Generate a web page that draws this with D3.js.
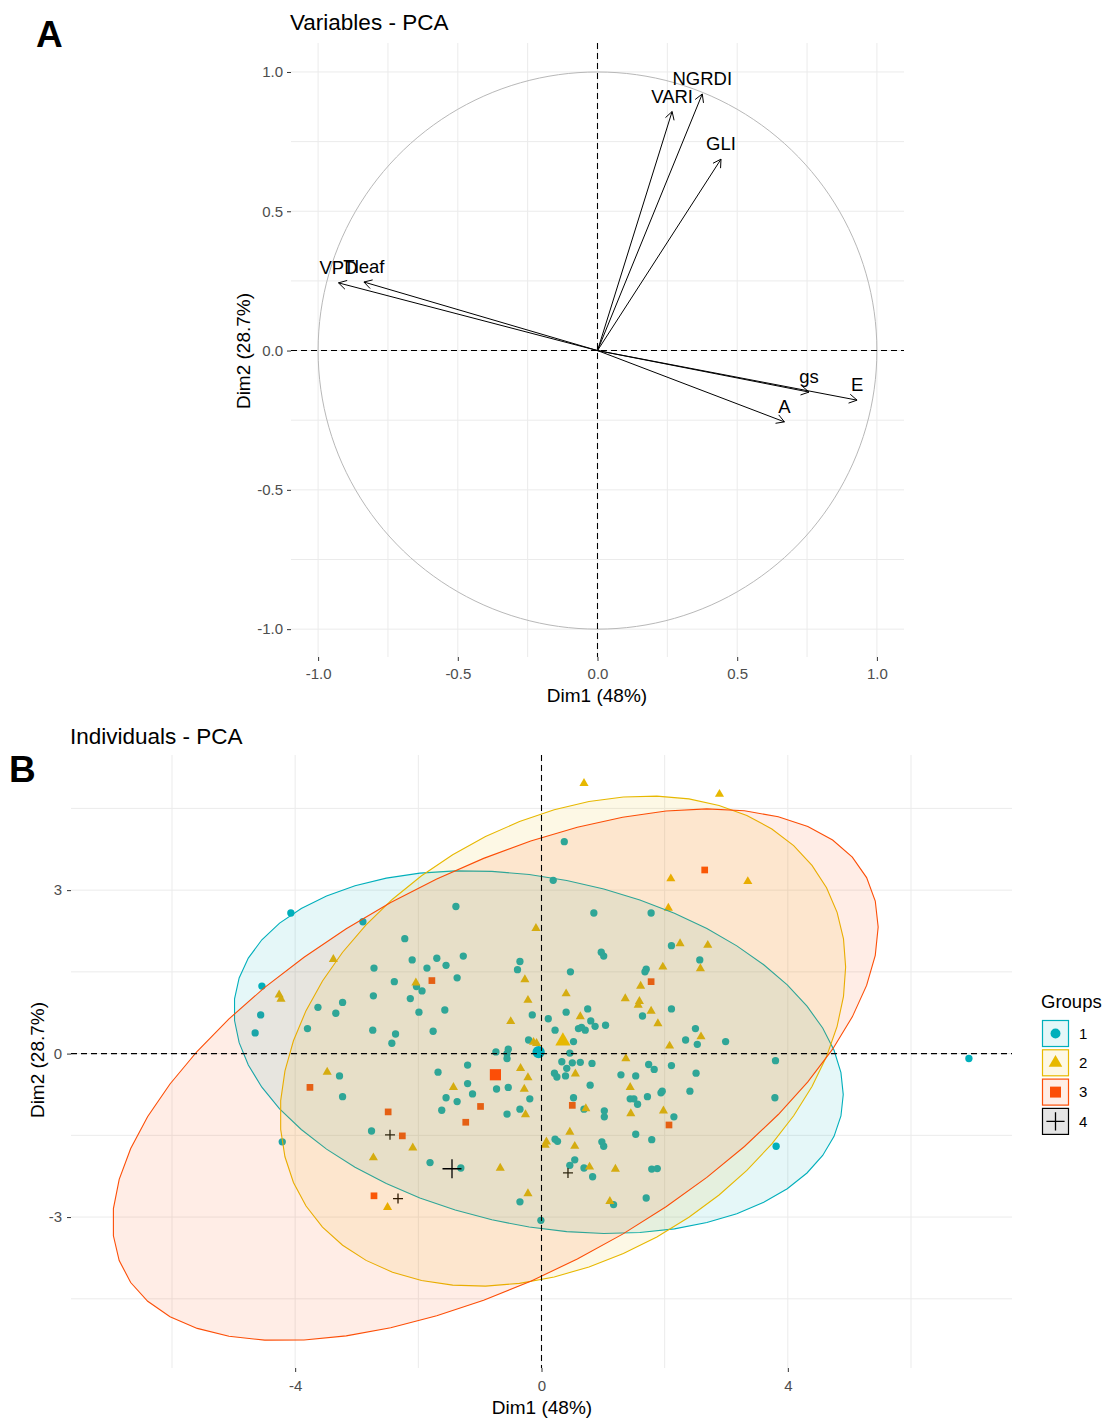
<!DOCTYPE html>
<html>
<head>
<meta charset="utf-8">
<script src="https://cdn.jsdelivr.net/npm/d3@7"></script>
<style>
  body { margin: 0; background: #ffffff; }
  svg text { font-family: "Liberation Sans", Arial, Helvetica, sans-serif; }
</style>
</head>
<body>
<svg id="chart" width="1107" height="1418"></svg>
<script>
// ---------- Panel A: variable loadings (Dim1, Dim2) ----------
const varNames = ["VARI", "NGRDI", "GLI", "VPD", "Tleaf", "gs", "E", "A"];
const varDim1  = [0.267, 0.375, 0.442, -0.927, -0.836, 0.757, 0.929, 0.669];
const varDim2  = [0.858, 0.921, 0.687, 0.243, 0.246, -0.149, -0.178, -0.256];
const ticksA   = [-1.0, -0.5, 0.0, 0.5, 1.0];
const minorA   = [-0.75, -0.25, 0.25, 0.75];

// ---------- Panel B: individual scores by group ----------
const groupNames  = ["1", "2", "3", "4"];
const groupColors = ["#00AFBB", "#E7B800", "#FC4E07", "#000000"];

const g1Dim1 = [-4.07,-2.90,-1.39,-2.22,0.37,0.19,0.85,1.78,-1.27,-1.70,
  -2.10,-1.55,-1.86,-2.72,-0.35,-0.39,-2.39,-2.03,-1.94,-1.37,
  -4.54,-2.73,-2.13,-3.23,-3.63,-3.34,-1.99,-1.57,-0.15,-4.56,
  0.11,-3.80,-2.74,-2.37,-1.76,-4.65,0.22,-2.43,-0.21,-0.74,
  -0.54,-0.56,-0.56,-1.20,-1.68,-3.28,0.21,2.11,0.97,1.01,
  2.57,1.70,1.68,0.47,0.75,0.40,2.11,1.64,0.80,0.87,
  1.04,0.60,0.65,0.71,2.50,2.34,2.53,2.99,0.52,0.46,
  3.80,0.33,0.50,0.63,0.82,0.41,1.74,1.83,2.11,0.25,
  0.39,1.29,1.53,2.51,-3.23,-1.20,-1.55,-1.37,-1.12,-0.73,
  -0.54,-0.19,-1.62,-0.35,-0.56,-2.76,-4.21,-1.81,-1.31,-0.35,
  -0.01,0.79,0.52,1.44,1.50,1.56,1.72,1.94,1.96,2.41,
  3.79,0.69,1.02,1.02,2.15,0.22,0.26,0.98,1.01,1.53,
  1.79,3.81,0.54,0.46,0.69,0.83,1.79,1.88,1.70,1.17,6.94];
const g1Dim2 = [2.58,2.42,2.70,2.11,3.89,3.18,2.58,2.58,1.79,1.75,
  1.72,1.62,1.57,1.57,1.69,1.54,1.32,1.23,1.15,1.39,
  1.24,1.06,1.01,0.94,0.85,0.74,0.76,0.80,0.71,0.71,
  0.64,0.46,0.43,0.36,0.41,0.38,0.43,0.19,0.25,0.03,
  0.08,0.00,-0.09,-0.21,-0.34,-0.41,-0.36,1.98,1.86,1.79,
  1.72,1.55,1.50,1.50,0.82,0.76,0.82,0.69,0.60,0.50,
  0.52,0.46,0.48,0.43,0.46,0.25,0.17,0.22,0.22,0.01,
  -0.13,-0.15,-0.17,-0.16,-0.18,-0.27,-0.20,-0.29,-0.22,-0.43,
  -0.41,-0.39,-0.41,-0.36,-0.79,-0.55,-0.81,-0.88,-0.74,-0.65,
  -0.62,-0.83,-1.04,-1.02,-1.11,-1.42,-1.62,-2.00,-2.10,-2.72,
  -3.06,-0.58,-0.81,-0.83,-0.83,-0.93,-0.79,-0.72,-0.69,-0.69,
  -0.81,-1.02,-1.05,-1.16,-1.16,-1.57,-1.61,-1.62,-1.70,-1.48,
  -1.58,-1.70,-1.95,-2.05,-2.10,-2.26,-2.12,-2.11,-2.65,-2.77,-0.09];

const g2Dim1 = [0.69,2.89,2.10,3.35,2.06,-0.09,2.25,2.70,2.58,1.97,
  1.61,0.40,1.36,1.59,1.57,1.78,0.63,1.89,2.59,2.08,
  1.37,0.55,-3.38,-2.04,-0.27,-4.26,-4.23,-0.22,-0.50,-0.13,
  -0.08,-3.48,-0.34,-0.22,-1.43,-0.28,-0.26,-2.09,-2.73,-0.67,
  0.08,0.06,-0.22,-2.50,1.44,0.72,1.45,1.98,0.46,0.54,
  0.78,1.20,1.11];
const g2Dim2 = [4.96,4.76,3.21,3.16,2.67,2.30,2.02,1.99,1.56,1.59,
  1.24,1.10,1.01,0.96,0.89,0.78,0.68,0.55,0.31,0.14,
  -0.09,-0.37,1.73,1.30,1.36,1.08,1.00,0.98,0.59,0.21,
  0.19,-0.34,-0.27,-0.44,-0.62,-0.65,-1.12,-1.73,-1.91,-2.10,
  -1.62,-1.68,-2.57,-2.82,-0.62,-1.01,-1.10,-1.05,-1.44,-1.70,
  -2.08,-2.12,-2.71];

const g3Dim1 = [-1.78,1.78,2.65,-3.76,-2.49,-2.26,-2.72,-1.23,-0.99,0.50,2.07];
const g3Dim2 = [1.34,1.32,3.37,-0.62,-1.07,-1.51,-2.61,-1.26,-0.97,-0.95,-1.31];

const g4Dim1 = [-2.46,-2.33,0.43];
const g4Dim2 = [-1.49,-2.66,-2.19];

const ticksBx = [-4, 0, 4];
const ticksBy = [-3, 0, 3];
const minorBx = [-6, -2, 2, 6];
const minorBy = [-4.5, -1.5, 1.5, 4.5];

// ---------- shared helpers ----------
const svg = d3.select("#chart");
const GRID = "#ebebeb";
const TICK_TXT = "#4d4d4d";

// thin "+" glyph (ggplot shape 3)
const symbolPlus = {
  draw(ctx, size) {
    const r = Math.sqrt(size) / 2;
    ctx.moveTo(-r, 0); ctx.lineTo(r, 0);
    ctx.moveTo(0, -r); ctx.lineTo(0, r);
  }
};
const shapes = [d3.symbolCircle, d3.symbolTriangle, d3.symbolSquare, symbolPlus];
const smallSize = [42, 36, 45, 100];
const meanSize  = [120, 100, 125, 360];
const legendSize = [78, 80, 120, 330];

function drawSymbol(sel, gi, size) {
  const path = d3.symbol().type(shapes[gi]).size(size)();
  if (gi === 3) {
    sel.attr("d", path).attr("fill", "none").attr("stroke", groupColors[gi]).attr("stroke-width", 1.3);
  } else {
    sel.attr("d", path).attr("fill", groupColors[gi]).attr("stroke", "none");
  }
}

// 95% normal-theory ellipse (as in stat_ellipse type = "norm")
function normEllipse(pts, level, segments) {
  const n = pts.length, dfd = n - 1;
  if (dfd < 3) return null;
  const mx = d3.mean(pts, p => p[0]), my = d3.mean(pts, p => p[1]);
  let sxx = 0, syy = 0, sxy = 0;
  pts.forEach(([x, y]) => { sxx += (x - mx) ** 2; syy += (y - my) ** 2; sxy += (x - mx) * (y - my); });
  sxx /= dfd; syy /= dfd; sxy /= dfd;
  const r11 = Math.sqrt(sxx), r12 = sxy / r11, r22 = Math.sqrt(syy - r12 * r12);
  const qf = dfd / 2 * (Math.pow(1 - level, -2 / dfd) - 1);   // F(2, dfd) quantile
  const radius = Math.sqrt(2 * qf);
  return d3.range(segments + 1).map(i => {
    const a = i * 2 * Math.PI / segments, c = Math.cos(a), s = Math.sin(a);
    return [mx + radius * c * r11, my + radius * (c * r12 + s * r22)];
  });
}

function styleAxis(g) {
  g.select(".domain").remove();
  g.selectAll(".tick line").attr("stroke", "#333333").attr("stroke-width", 1);
  g.selectAll(".tick text").attr("fill", TICK_TXT).attr("font-size", 15)
    .attr("font-family", '"Liberation Sans", Arial, sans-serif');
}

// =====================================================
// Panel A : Variables - PCA
// =====================================================
const xA = d3.scaleLinear().domain([-1.097, 1.097]).range([291, 904]);
const yA = d3.scaleLinear().domain([-1.1, 1.104]).range([657, 43]);
const gA = svg.append("g");

gA.append("g").selectAll("line").data(ticksA.concat(minorA)).join("line")
  .attr("x1", d => xA(d)).attr("x2", d => xA(d))
  .attr("y1", yA.range()[1]).attr("y2", yA.range()[0])
  .attr("stroke", GRID).attr("stroke-width", 1);
gA.append("g").selectAll("line").data(ticksA.concat(minorA)).join("line")
  .attr("y1", d => yA(d)).attr("y2", d => yA(d))
  .attr("x1", xA.range()[0]).attr("x2", xA.range()[1])
  .attr("stroke", GRID).attr("stroke-width", 1);

// correlation circle
const circlePts = d3.range(0, 361, 2).map(a => [Math.cos(a * Math.PI / 180), Math.sin(a * Math.PI / 180)]);
gA.append("path")
  .attr("d", d3.line().x(p => xA(p[0])).y(p => yA(p[1]))(circlePts))
  .attr("fill", "none").attr("stroke", "#b8b8b8").attr("stroke-width", 1);

// arrows
const vars = varNames.map((n, i) => ({ name: n, x: varDim1[i], y: varDim2[i] }));
const arrowG = gA.append("g");
vars.forEach(v => {
  const x0 = xA(0), y0 = yA(0), x1 = xA(v.x), y1 = yA(v.y);
  const ang = Math.atan2(y1 - y0, x1 - x0), L = 9, phi = Math.PI / 6;
  arrowG.append("line").attr("x1", x0).attr("y1", y0).attr("x2", x1).attr("y2", y1)
    .attr("stroke", "#000").attr("stroke-width", 1);
  arrowG.append("path")
    .attr("d", `M${x1 - L * Math.cos(ang - phi)},${y1 - L * Math.sin(ang - phi)}L${x1},${y1}L${x1 - L * Math.cos(ang + phi)},${y1 - L * Math.sin(ang + phi)}`)
    .attr("fill", "none").attr("stroke", "#000").attr("stroke-width", 1);
});
gA.append("g").selectAll("text").data(vars).join("text")
  .attr("x", d => xA(d.x)).attr("y", d => yA(d.y) - 15.5).attr("dy", "0.35em")
  .attr("text-anchor", "middle").attr("font-size", 18.5).attr("fill", "#000")
  .text(d => d.name);

// dashed reference lines
gA.append("line").attr("x1", xA(0)).attr("x2", xA(0)).attr("y1", yA.range()[1]).attr("y2", yA.range()[0])
  .attr("stroke", "#000").attr("stroke-width", 1.1).attr("stroke-dasharray", "6,4");
gA.append("line").attr("y1", yA(0)).attr("y2", yA(0)).attr("x1", xA.range()[0]).attr("x2", xA.range()[1])
  .attr("stroke", "#000").attr("stroke-width", 1.1).attr("stroke-dasharray", "6,4");

// axes
gA.append("g").attr("transform", `translate(0,${yA.range()[0]})`)
  .call(d3.axisBottom(xA).tickValues(ticksA).tickFormat(d => d.toFixed(1)).tickSize(4).tickPadding(7.5))
  .call(styleAxis);
gA.append("g").attr("transform", `translate(${xA.range()[0]},0)`)
  .call(d3.axisLeft(yA).tickValues(ticksA).tickFormat(d => d.toFixed(1)).tickSize(4).tickPadding(4))
  .call(styleAxis);

gA.append("text").attr("x", 597).attr("y", 702).attr("text-anchor", "middle")
  .attr("font-size", 19).text("Dim1 (48%)");
gA.append("text").attr("transform", "translate(243,351) rotate(-90)").attr("dy", "0.35em")
  .attr("text-anchor", "middle").attr("font-size", 19).text("Dim2 (28.7%)");
gA.append("text").attr("x", 290).attr("y", 30).attr("font-size", 22.5).text("Variables - PCA");
svg.append("text").attr("x", 36).attr("y", 47).attr("font-size", 37).attr("font-weight", "bold").text("A");

// =====================================================
// Panel B : Individuals - PCA
// =====================================================
const xB = d3.scaleLinear().domain([-7.64, 7.64]).range([71, 1012]);
const yB = d3.scaleLinear().domain([-5.77, 5.48]).range([1368, 755]);
const gB = svg.append("g");

gB.append("g").selectAll("line").data(ticksBx.concat(minorBx)).join("line")
  .attr("x1", d => xB(d)).attr("x2", d => xB(d))
  .attr("y1", yB.range()[1]).attr("y2", yB.range()[0])
  .attr("stroke", GRID).attr("stroke-width", 1);
gB.append("g").selectAll("line").data(ticksBy.concat(minorBy)).join("line")
  .attr("y1", d => yB(d)).attr("y2", d => yB(d))
  .attr("x1", xB.range()[0]).attr("x2", xB.range()[1])
  .attr("stroke", GRID).attr("stroke-width", 1);

const dimX = [g1Dim1, g2Dim1, g3Dim1, g4Dim1];
const dimY = [g1Dim2, g2Dim2, g3Dim2, g4Dim2];
const groupsB = groupNames.map((name, gi) => ({
  name, gi,
  pts: dimX[gi].map((x, j) => [x, dimY[gi][j]])
}));

// individual points
groupsB.forEach(grp => {
  gB.append("g").selectAll("path").data(grp.pts).join("path")
    .attr("transform", p => `translate(${xB(p[0])},${yB(p[1])})`)
    .each(function () { drawSymbol(d3.select(this), grp.gi, smallSize[grp.gi]); });
});

// concentration ellipses
const ellLine = d3.line().x(p => xB(p[0])).y(p => yB(p[1]));
groupsB.forEach(grp => {
  const ell = normEllipse(grp.pts, 0.95, 51);
  if (!ell) return;
  gB.append("path").attr("d", ellLine(ell) + "Z")
    .attr("fill", groupColors[grp.gi]).attr("fill-opacity", 0.1)
    .attr("stroke", groupColors[grp.gi]).attr("stroke-width", 1.1);
});

// group means
groupsB.forEach(grp => {
  const m = [d3.mean(grp.pts, p => p[0]), d3.mean(grp.pts, p => p[1])];
  gB.append("path").attr("transform", `translate(${xB(m[0])},${yB(m[1])})`)
    .call(s => drawSymbol(s, grp.gi, meanSize[grp.gi]));
});

// dashed reference lines
gB.append("line").attr("x1", xB(0)).attr("x2", xB(0)).attr("y1", yB.range()[1]).attr("y2", yB.range()[0])
  .attr("stroke", "#000").attr("stroke-width", 1.1).attr("stroke-dasharray", "6,4");
gB.append("line").attr("y1", yB(0)).attr("y2", yB(0)).attr("x1", xB.range()[0]).attr("x2", xB.range()[1])
  .attr("stroke", "#000").attr("stroke-width", 1.1).attr("stroke-dasharray", "6,4");

// axes
gB.append("g").attr("transform", `translate(0,${yB.range()[0]})`)
  .call(d3.axisBottom(xB).tickValues(ticksBx).tickFormat(d => String(d)).tickSize(4).tickPadding(8))
  .call(styleAxis);
gB.append("g").attr("transform", `translate(${xB.range()[0]},0)`)
  .call(d3.axisLeft(yB).tickValues(ticksBy).tickFormat(d => String(d)).tickSize(4).tickPadding(5))
  .call(styleAxis);

gB.append("text").attr("x", 542).attr("y", 1414).attr("text-anchor", "middle")
  .attr("font-size", 19).text("Dim1 (48%)");
gB.append("text").attr("transform", "translate(37,1060) rotate(-90)").attr("dy", "0.35em")
  .attr("text-anchor", "middle").attr("font-size", 19).text("Dim2 (28.7%)");
gB.append("text").attr("x", 70).attr("y", 744).attr("font-size", 22.5).text("Individuals - PCA");
svg.append("text").attr("x", 9).attr("y", 782).attr("font-size", 37).attr("font-weight", "bold").text("B");

// legend
const lg = svg.append("g").attr("transform", "translate(1042,0)");
lg.append("text").attr("x", -1).attr("y", 1008).attr("font-size", 18.5).text("Groups");
groupNames.forEach((name, gi) => {
  const top = 1020 + gi * 29.3;
  lg.append("rect").attr("x", 0.5).attr("y", top + 0.5).attr("width", 26).attr("height", 26)
    .attr("fill", groupColors[gi]).attr("fill-opacity", 0.1)
    .attr("stroke", groupColors[gi]).attr("stroke-width", 1.2);
  lg.append("path").attr("transform", `translate(13.5,${top + 13.5})`)
    .call(s => drawSymbol(s, gi, legendSize[gi]));
  lg.append("text").attr("x", 37).attr("y", top + 13.5).attr("dy", "0.35em")
    .attr("font-size", 15).text(name);
});
</script>
</body>
</html>
